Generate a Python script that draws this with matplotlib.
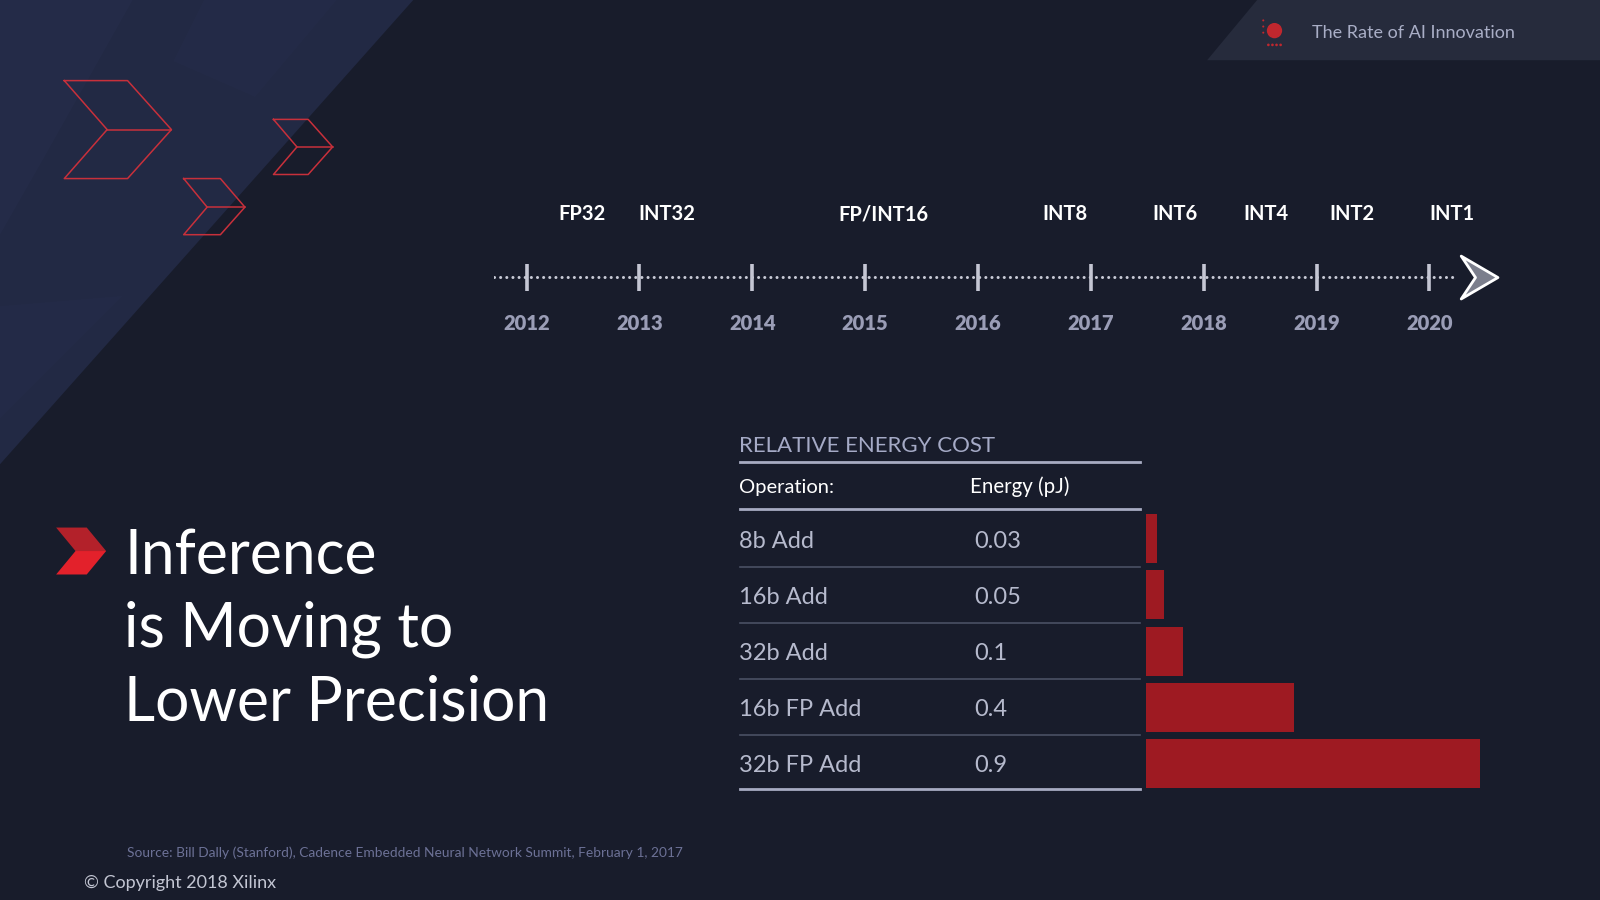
import matplotlib.pyplot as plt
from matplotlib.patches import Polygon, Circle

# data
years = [2012, 2013, 2014, 2015, 2016, 2017, 2018, 2019, 2020]
precisions = ['FP32', 'INT32', 'FP/INT16', 'INT8', 'INT6', 'INT4', 'INT2', 'INT1']
precision_pos = [2012.49, 2013.24, 2015.16, 2016.77, 2017.75, 2018.55, 2019.31, 2020.2]
operations = ['8b Add', '16b Add', '32b Add', '16b FP Add', '32b FP Add']
energy = [0.03, 0.05, 0.1, 0.4, 0.9]
energy_labels = ['0.03', '0.05', '0.1', '0.4', '0.9']

W, H = 1568, 882
BG = '#181c2b'
plt.rcParams['font.family'] = ['Lato', 'DejaVu Sans']

fig = plt.figure(figsize=(16, 9), dpi=100, facecolor=BG)

# background layer in reference pixel coords
bg = fig.add_axes([0, 0, 1, 1], zorder=0)
bg.set_xlim(0, W)
bg.set_ylim(H, 0)
bg.axis('off')
bg.set_facecolor(BG)

bg.add_patch(Polygon([(0, 0), (405, 0), (0, 455)], closed=True, fc='#222944', ec='none'))
# faint facets
bg.add_patch(Polygon([(0, 0), (130, 0), (40, 160), (0, 230)], closed=True, fc='#262d4b', ec='none', alpha=0.6))
bg.add_patch(Polygon([(200, 0), (330, 0), (250, 95), (170, 60)], closed=True, fc='#252c4a', ec='none', alpha=0.5))
bg.add_patch(Polygon([(0, 300), (120, 290), (0, 410)], closed=True, fc='#252c4a', ec='none', alpha=0.5))

# outlined chevrons
def chevron(x0, x1, x2, y0, y1, ym, xn):
    pts = [(x0, y0), (x1, y0), (x2, ym), (x1, y1), (x0, y1), (xn, ym), (x0, y0)]
    xs, ys = zip(*pts)
    bg.plot(xs, ys, color='#c8303b', lw=1.1)
    bg.plot([xn, x2], [ym, ym], color='#c8303b', lw=1.1)

chevron(63, 125, 168, 79, 175, 127, 105)
chevron(180, 216, 240, 175, 230, 203, 203)
chevron(268, 302, 326, 117, 171, 144, 291)

# top right banner
bg.add_patch(Polygon([(1183, 59), (1232, 0), (W, 0), (W, 59)], closed=True, fc='#262b3c', ec='none'))
bg.add_patch(Circle((1249, 30), 7.5, fc='#c0272e', ec='none'))
for dx in (-6, -2, 2, 6):
    bg.add_patch(Circle((1249 + dx, 44), 1.3, fc='#c0272e', ec='none'))
for dy in (-10, -4, 2):
    bg.add_patch(Circle((1238, 30 + dy), 1.0, fc='#c0272e', ec='none'))
bg.text(1286, 37, 'The Rate of AI Innovation', color='#a9aec6', fontsize=13, va='baseline')

# title
bg.add_patch(Polygon([(55, 517), (85, 517), (104, 540), (74, 540)], closed=True, fc='#b3212a', ec='none'))
bg.add_patch(Polygon([(74, 540), (104, 540), (85, 563), (55, 563)], closed=True, fc='#e3212b', ec='none'))
for txt, yb in zip(['Inference', 'is Moving to', 'Lower Precision'], [563, 634, 706]):
    bg.text(122, yb, txt, color='white', fontsize=43.7, va='baseline')

# table
bg.text(724, 443, 'RELATIVE ENERGY COST', color='#a5aac6', fontsize=16, va='baseline')
bg.plot([725, 1117], [453, 453], color='#a7abc2', lw=2)
bg.text(724, 483, 'Operation:', color='white', fontsize=14.5, va='baseline')
bg.text(951, 483, 'Energy (pJ)', color='white', fontsize=14.8, va='baseline')
bg.plot([725, 1117], [499, 499], color='#a7abc2', lw=2)
row_h = 55
for i, (op, lab) in enumerate(zip(operations, energy_labels)):
    yc = 528 + i * row_h
    bg.text(724, yc + 9, op, color='#b6bacd', fontsize=17, va='baseline')
    bg.text(955, yc + 9, lab, color='#b6bacd', fontsize=17, va='baseline')
    if i < len(operations) - 1:
        bg.plot([725, 1117], [yc + 27.5, yc + 27.5], color='#4a5064', lw=1.2)
bg.plot([725, 1117], [773, 773], color='#a7abc2', lw=2)

# footer
bg.text(124, 840, 'Source: Bill Dally (Stanford), Cadence Embedded Neural Network Summit, February 1, 2017',
        color='#6c7196', fontsize=9.9, va='baseline')
bg.text(82, 870, '\u00a9 Copyright 2018 Xilinx', color='#c3c6d3', fontsize=13, va='baseline')

# bars
bx0, bx1 = 1123, 1450
ax = fig.add_axes([bx0 / W, 1 - 775.5 / H, (bx1 - bx0) / W, 275 / H], zorder=2)
ax.patch.set_alpha(0)
ax.barh(range(len(energy)), energy, height=48 / 55, color='#9e1a22', left=0)
ax.set_xlim(0, max(energy))
ax.set_ylim(len(energy) - 0.5, -0.5)
ax.axis('off')

# timeline
px_per_year = 110.6
x_left, x_right = 484, 1475
y_top, y_bot = 180, 340
tl = fig.add_axes([x_left / W, 1 - y_bot / H, (x_right - x_left) / W, (y_bot - y_top) / H], zorder=2)
tl.patch.set_alpha(0)
tl.set_xlim(years[0] + (x_left - 516) / px_per_year, years[0] + (x_right - 516) / px_per_year)
tl.set_ylim(y_bot, y_top)
tl.axis('off')
line_end = years[0] + (1428 - 516) / px_per_year
tl.plot([tl.get_xlim()[0], line_end], [271, 271], color='#c8cad6', lw=2.2,
        linestyle=(0, (0.01, 2.0)), dash_capstyle='round', solid_capstyle='round')
tl.vlines(years, 259, 285, color='#c4c6d3', lw=2.6)
for yr in years:
    tl.text(yr, 323, str(yr), color='#9a9db6', fontsize=14.5, fontweight='heavy', ha='center', va='baseline')
for lab, pos in zip(precisions, precision_pos):
    tl.text(pos, 216, lab, color='white', fontsize=14.5, fontweight='bold', ha='center', va='baseline')
# arrow head
ax0 = years[0] + (1432 - 516) / px_per_year
ax1 = years[0] + (1468 - 516) / px_per_year
axn = years[0] + (1446 - 516) / px_per_year
tl.add_patch(Polygon([(ax0, 251), (ax1, 272), (ax0, 293), (axn, 272)], closed=True,
                     fc='#7b7e8c', ec='white', lw=2, joinstyle='round'))

fig.savefig('out.png', dpi=100, facecolor=BG)
